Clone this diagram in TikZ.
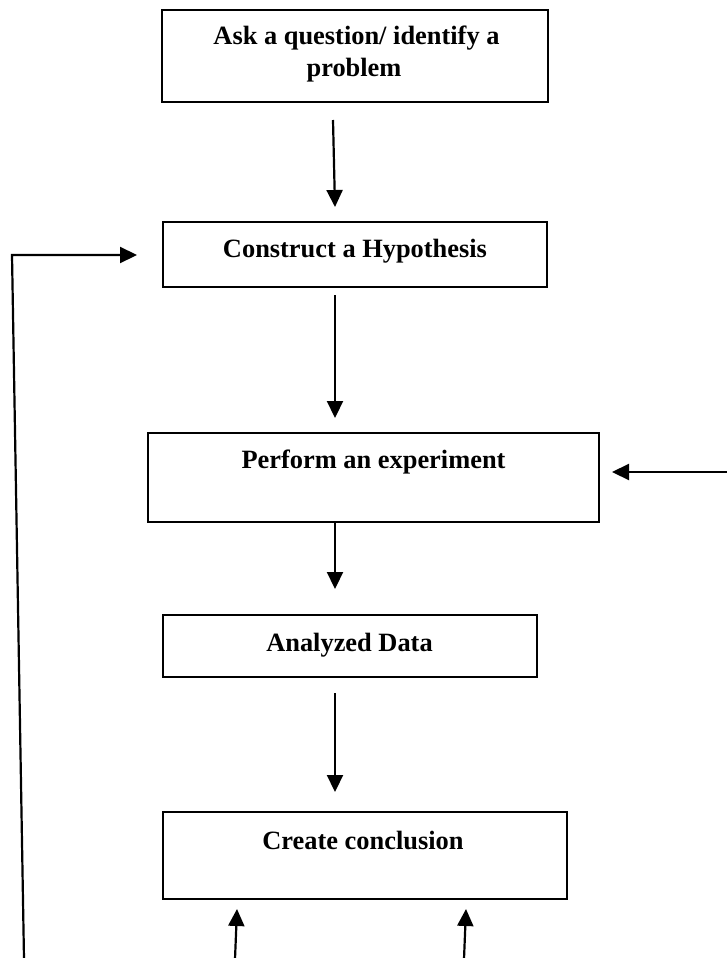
\documentclass[tikz,border=0pt]{standalone}
\usepackage{fontspec}
\setmainfont{Liberation Serif}
\usetikzlibrary{arrows.meta}

\tikzset{
  stepbox/.style={draw, line width=2.4pt, rectangle, inner sep=0pt},
  steptext/.style={font=\bfseries\fontsize{26.4}{32}\selectfont, anchor=base, inner sep=0pt, align=center},
  flow/.style={line width=2.2pt, -{Triangle[length=17pt,width=16pt]}},
}

\begin{document}
\begin{tikzpicture}[x=1pt, y=-1pt]
  \useasboundingbox (0,0) rectangle (727,958);

  % the five stages
  \node[stepbox, minimum width=386, minimum height=92] (ask)  at (355,56)    {};
  \node[stepbox, minimum width=384, minimum height=65] (hyp)  at (355,254.5) {};
  \node[stepbox, minimum width=451, minimum height=89] (exp)  at (373.5,477.5) {};
  \node[stepbox, minimum width=374, minimum height=62] (data) at (350,646)   {};
  \node[stepbox, minimum width=404, minimum height=87] (conc) at (365,855.5) {};

  % stage labels
  \node[steptext] (askA)  at (356.5,45) {Ask a question/ identify a};
  \node[steptext] (askB)  at (354,77)   {problem};
  \node[steptext] (hypT)  at (355,257)  {Construct a Hypothesis};
  \node[steptext] (expT)  at (373.5,468) {Perform an experiment};
  \node[steptext] (dataT) at (349.5,651) {Analyzed Data};
  \node[steptext] (concT) at (363,849)  {Create conclusion};

  % connector end points
  \coordinate (a1s) at (333,120);  \coordinate (a1e) at (335,207);
  \coordinate (a2s) at (335,295);  \coordinate (a2e) at (335,418);
  \coordinate (a3e) at (335,589);
  \coordinate (a4s) at (335,693);  \coordinate (a4e) at (335,792);
  \coordinate (loopS) at (24,959); \coordinate (loopC) at (12,255);
  \coordinate (loopE) at (137,255);
  \coordinate (backS) at (728,472); \coordinate (backE) at (612,472);
  \coordinate (upLS) at (235,959); \coordinate (upLE) at (237,909);
  \coordinate (upRS) at (464,959); \coordinate (upRE) at (466,909);

  % main flow
  \draw[flow] (a1s) -- (a1e);
  \draw[flow] (a2s) -- (a2e);
  \draw[flow] (exp.south -| a3e) -- (a3e);
  \draw[flow] (a4s) -- (a4e);

  % return paths
  \draw[flow] (loopS) -- (loopC) -- (loopE);
  \draw[flow] (backS) -- (backE);
  \draw[flow] (upLS) -- (upLE);
  \draw[flow] (upRS) -- (upRE);
\end{tikzpicture}
\end{document}
